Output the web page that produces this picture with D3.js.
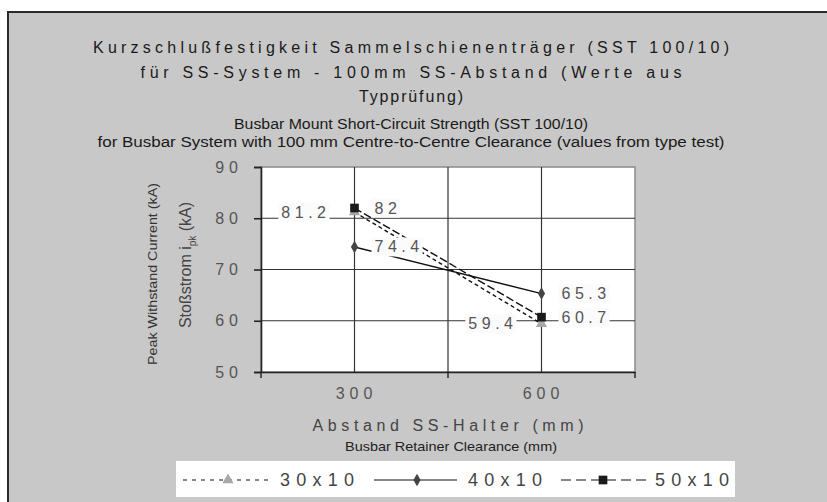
<!DOCTYPE html>
<html>
<head>
<meta charset="utf-8">
<script src="https://cdn.jsdelivr.net/npm/d3@7"></script>
<style>
  html, body { margin: 0; padding: 0; background: #fff; }
  svg { display: block; font-family: "Liberation Sans", Arial, sans-serif; }
</style>
</head>
<body>
<svg id="chart" width="827" height="502"></svg>
<script>
// Busbar retainer clearance (mm) categories
const categories = ["300", "600"];
// Peak withstand current (kA) per busbar size
const series30x10 = [81.2, 59.4];
const series40x10 = [74.4, 65.3];
const series50x10 = [82, 60.7];
const seriesNames = ["30x10", "40x10", "50x10"];
const yTicks = [50, 60, 70, 80, 90];

const titleLines = [
  "Kurzschlußfestigkeit Sammelschienenträger (SST 100/10)",
  "für SS-System - 100mm SS-Abstand (Werte aus",
  "Typprüfung)"
];
const subtitleLines = [
  "Busbar Mount Short-Circuit Strength (SST 100/10)",
  "for Busbar System with 100 mm Centre-to-Centre Clearance (values from type test)"
];
const xTitle = "Abstand SS-Halter (mm)";
const xSubTitle = "Busbar Retainer Clearance (mm)";
const yTitleEn = "Peak Withstand Current (kA)";

const svg = d3.select("#chart");

// outer frame
svg.append("rect").attr("x", 8).attr("y", 12).attr("width", 830).attr("height", 500)
  .attr("fill", "#c8c8c8").attr("stroke", "#2a2a2a").attr("stroke-width", 2);

// titles
const cx = 411;
const titleWidths = [636, 541, 104];
const titleY = [53, 78, 102];
titleLines.forEach((t, i) => {
  svg.append("text").attr("x", cx).attr("y", titleY[i]).attr("text-anchor", "middle")
    .attr("font-size", 16).attr("fill", "#1a1a1a")
    .attr("textLength", titleWidths[i]).attr("lengthAdjust", "spacing").text(t);
});
const subWidths = [354, 627];
const subY = [129, 147];
subtitleLines.forEach((t, i) => {
  svg.append("text").attr("x", cx).attr("y", subY[i]).attr("text-anchor", "middle")
    .attr("font-size", 14).attr("fill", "#1a1a1a")
    .attr("textLength", subWidths[i]).attr("lengthAdjust", "spacingAndGlyphs").text(t);
});

// plot area
const plot = { left: 261, right: 635, top: 167, bottom: 372 };
const x = d3.scaleBand().domain(categories).range([plot.left, plot.right]).padding(0);
const y = d3.scaleLinear().domain([50, 90]).range([plot.bottom, plot.top]);
const xc = c => x(c) + x.bandwidth() / 2;

svg.append("rect").attr("x", plot.left).attr("y", plot.top)
  .attr("width", plot.right - plot.left).attr("height", plot.bottom - plot.top)
  .attr("fill", "#fff").attr("stroke", "#8a8a8a").attr("stroke-width", 1.5);

const grid = svg.append("g").attr("stroke", "#333").attr("stroke-width", 1.2);
yTicks.slice(1, -1).forEach(v => {
  grid.append("line").attr("x1", plot.left).attr("x2", plot.right)
    .attr("y1", y(v)).attr("y2", y(v));
});
// vertical grid: category centres and the inner band boundary
const vLines = categories.map(xc).concat(categories.slice(1).map(c => x(c)));
vLines.forEach(v => {
  grid.append("line").attr("x1", v).attr("x2", v).attr("y1", plot.top).attr("y2", plot.bottom);
});

// axes
const yAxis = d3.axisLeft(y).tickValues(yTicks).tickSize(7).tickFormat("");
svg.append("g").attr("transform", `translate(${plot.left},0)`).call(yAxis)
  .call(g => g.selectAll("path, line").attr("stroke", "#222").attr("stroke-width", 1.6));
const xAxis = d3.axisBottom(x).tickSize(0).tickFormat("");
const gx = svg.append("g").attr("transform", `translate(0,${plot.bottom})`).call(xAxis);
gx.select("path").attr("stroke", "#222").attr("stroke-width", 1.6);
// tick marks at band boundaries
const bounds = categories.map(c => x(c)).concat([x(categories[categories.length - 1]) + x.bandwidth()]);
bounds.forEach(b => {
  gx.append("line").attr("x1", b).attr("x2", b).attr("y1", 0).attr("y2", 6)
    .attr("stroke", "#222").attr("stroke-width", 1.4);
});

// tick labels
yTicks.forEach(v => {
  svg.append("text").attr("x", 243).attr("y", y(v)).attr("text-anchor", "end")
    .attr("dominant-baseline", "central").attr("font-size", 16).attr("fill", "#555")
    .attr("letter-spacing", 5).text(v);
});
categories.forEach(c => {
  svg.append("text").attr("x", xc(c) + 2).attr("y", 393).attr("text-anchor", "middle")
    .attr("dominant-baseline", "central").attr("font-size", 16).attr("fill", "#555")
    .attr("letter-spacing", 5).text(c);
});

// axis titles
svg.append("text").attr("x", 448).attr("y", 431).attr("text-anchor", "middle")
  .attr("font-size", 16).attr("fill", "#444")
  .attr("textLength", 271).attr("lengthAdjust", "spacing").text(xTitle);
svg.append("text").attr("x", 451).attr("y", 451).attr("text-anchor", "middle")
  .attr("font-size", 13).attr("fill", "#222")
  .attr("textLength", 212).attr("lengthAdjust", "spacingAndGlyphs").text(xSubTitle);

svg.append("text").attr("transform", "translate(157,274) rotate(-90)")
  .attr("text-anchor", "middle").attr("font-size", 13).attr("fill", "#333")
  .attr("textLength", 182).attr("lengthAdjust", "spacingAndGlyphs").text(yTitleEn);
const st = svg.append("text").attr("transform", "translate(191,265) rotate(-90)")
  .attr("text-anchor", "middle").attr("font-size", 16).attr("fill", "#444");
st.append("tspan").text("Stoßstrom i");
st.append("tspan").attr("font-size", 10).attr("dy", 5).text("pk");
st.append("tspan").attr("dy", -5).text(" (kA)");

// series
const seriesData = [series30x10, series40x10, series50x10];
const styles = [
  { dash: "4,3", marker: "triangle", color: "#a8a8a8", labelSide: "left" },
  { dash: null, marker: "diamond", color: "#444", labelSide: "right" },
  { dash: "8,3", marker: "square", color: "#1a1a1a", labelSide: "right" }
];
const symbolFor = {
  triangle: d3.symbol().type(d3.symbolTriangle).size(55),
  diamond: d3.symbol().type(d3.symbolDiamond).size(45),
  square: d3.symbol().type(d3.symbolSquare).size(75)
};

const line = d3.line().x((d, i) => xc(categories[i])).y(d => y(d));
seriesData.forEach((vals, s) => {
  svg.append("path").attr("d", line(vals)).attr("fill", "none")
    .attr("stroke", "#111").attr("stroke-width", 1.4)
    .attr("stroke-dasharray", styles[s].dash);
});

// data labels with white boxes
const labelLayer = svg.append("g");
seriesData.forEach((vals, s) => {
  vals.forEach((v, i) => {
    const px = xc(categories[i]), py = y(v);
    const right = styles[s].labelSide === "right";
    const g = labelLayer.append("g");
    const t = g.append("text").attr("y", py).attr("dominant-baseline", "central")
      .attr("font-size", 16).attr("fill", "#555").attr("letter-spacing", 4.5)
      .attr("x", right ? px + 20 : px - 24).attr("text-anchor", right ? "start" : "end")
      .text(v);
    const bb = t.node().getBBox();
    g.insert("rect", "text").attr("x", bb.x - 3).attr("y", bb.y - 1)
      .attr("width", bb.width + 2).attr("height", bb.height + 2).attr("fill", "#fbfbfb");
  });
});

// markers on top
seriesData.forEach((vals, s) => {
  vals.forEach((v, i) => {
    svg.append("path").attr("d", symbolFor[styles[s].marker]())
      .attr("transform", `translate(${xc(categories[i])},${y(v)})`)
      .attr("fill", styles[s].color);
  });
});

// legend
svg.append("rect").attr("x", 176).attr("y", 461).attr("width", 559).attr("height", 36)
  .attr("fill", "#fff");
const legendItems = [
  { x1: 183, x2: 273, mx: 228, tx: 280 },
  { x1: 374, x2: 457, mx: 417, tx: 468 },
  { x1: 561, x2: 647, mx: 603, tx: 655 }
];
const legendDash = ["4,5", null, "10,5"];
const ly = 480;
seriesNames.forEach((name, s) => {
  const it = legendItems[s];
  svg.append("line").attr("x1", it.x1).attr("x2", it.x2).attr("y1", ly).attr("y2", ly)
    .attr("stroke", "#111").attr("stroke-width", 1.2)
    .attr("stroke-dasharray", legendDash[s]);
  svg.append("path").attr("d", symbolFor[styles[s].marker]())
    .attr("transform", `translate(${it.mx},${ly})`).attr("fill", styles[s].color);
  svg.append("text").attr("x", it.tx).attr("y", ly).attr("dominant-baseline", "central")
    .attr("font-size", 18).attr("fill", "#444")
    .attr("textLength", 74).attr("lengthAdjust", "spacing").text(name);
});
</script>
</body>
</html>
